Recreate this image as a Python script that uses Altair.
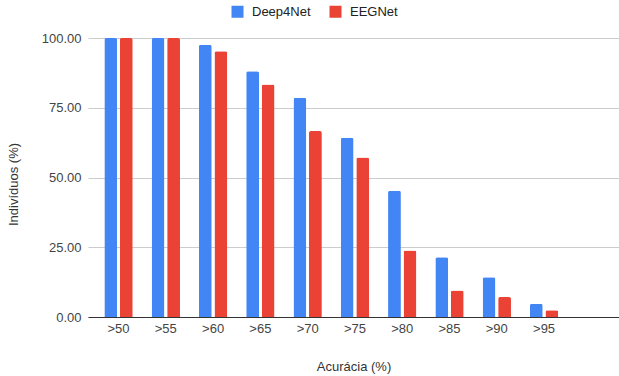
import altair as alt
import pandas as pd

# Accuracy thresholds (x categories)
thresholds = [">50", ">55", ">60", ">65", ">70", ">75", ">80", ">85", ">90", ">95"]

# Share of subjects (%) reaching each accuracy threshold
deep4net = [100.0, 100.0, 97.62, 88.10, 78.57, 64.29, 45.24, 21.43, 14.29, 4.76]
eegnet = [100.0, 100.0, 95.24, 83.33, 66.67, 57.14, 23.81, 9.52, 7.14, 2.38]

series = ["Deep4Net", "EEGNet"]
colors = ["#4285F4", "#EA4335"]

rows = []
for name, vals in zip(series, [deep4net, eegnet]):
    for t, v in zip(thresholds, vals):
        rows.append({"faixa": t, "modelo": name, "valor": v})
df = pd.DataFrame(rows)

FONT = "Liberation Sans"

chart = (
    alt.Chart(df)
    .mark_bar(cornerRadiusTopLeft=2, cornerRadiusTopRight=2)
    .encode(
        x=alt.X(
            "faixa:N",
            sort=thresholds,
            scale=alt.Scale(paddingInner=0.4, paddingOuter=0.815, align=0.212),
            axis=alt.Axis(
                title="Acurácia (%)",
                labelAngle=0,
                labelFontSize=13,
                labelColor="#444444",
                labelPadding=5,
                ticks=False,
                domainColor="#333333",
                domainWidth=1,
                grid=False,
                titleFontSize=13,
                titleFontWeight="normal",
                titleColor="#333333",
                titleBaseline="middle",
                titleY=49,
            ),
        ),
        xOffset=alt.XOffset(
            "modelo:N",
            sort=series,
            scale=alt.Scale(paddingInner=0.174, paddingOuter=0),
        ),
        y=alt.Y(
            "valor:Q",
            scale=alt.Scale(domain=[0, 100], nice=False),
            axis=alt.Axis(
                title="Indivíduos (%)",
                values=[0, 25, 50, 75, 100],
                format=".2f",
                labelFontSize=13,
                labelColor="#444444",
                labelPadding=7,
                ticks=False,
                domain=False,
                gridColor="#CCCCCC",
                gridWidth=1,
                titleFontSize=13,
                titleFontWeight="normal",
                titleColor="#333333",
                titleAlign="center",
                titleBaseline="middle",
                titleX=-75,
                titleY=146,
            ),
        ),
        color=alt.Color(
            "modelo:N",
            scale=alt.Scale(domain=series, range=colors),
            legend=alt.Legend(
                title=None,
                orient="none",
                legendX=143,
                legendY=-33,
                direction="horizontal",
                symbolType="square",
                symbolSize=144,
                symbolStrokeWidth=0,
                symbolOpacity=1,
                labelFontSize=13,
                labelColor="#222222",
                labelOffset=8,
                columnPadding=18,
            ),
        ),
    )
    .properties(
        width=531,
        height=279,
        autosize=alt.AutoSizeParams(type="none"),
        padding={"left": 88, "top": 38, "right": 0, "bottom": 59},
    )
    .configure(font=FONT, background="white")
    .configure_view(stroke=None)
)

chart.save("out.html", embed_options={"renderer": "svg", "actions": False})
